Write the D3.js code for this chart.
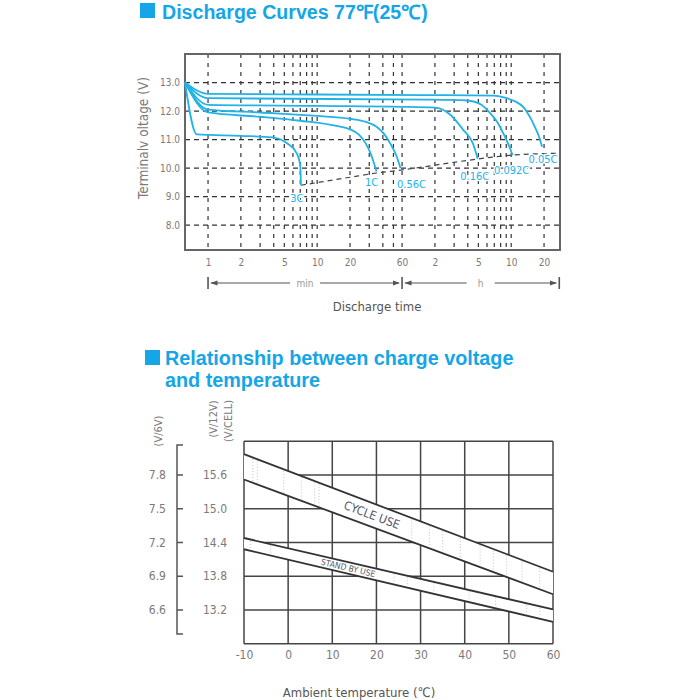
<!DOCTYPE html>
<html><head><meta charset="utf-8">
<script src="https://cdn.jsdelivr.net/npm/d3@7/dist/d3.min.js"></script>
<style>body{margin:0;background:#fff}svg{display:block}</style>
</head><body>
<svg id="c" width="700" height="700"></svg>
<script>
// ---------------- DATA ----------------
const title1 = "Discharge Curves 77\u2109(25\u2103)";
const title2a = "Relationship between charge voltage";
const title2b = "and temperature";

// Discharge curves: [minutes, volts]
const rateLabels = ["3C", "1C", "0.56C", "0.16C", "0.092C", "0.05C"];
const curve3C   = [[0.615,13.0],[0.79,11.18],[2,11.13],[3.9,11.08],[5.3,10.87],[6.5,10.52],[7.0,10.1],[7.1,9.4]];
const curve1C   = [[0.615,13.0],[1,11.95],[3,11.8],[7,11.66],[15,11.48],[20,11.36],[24,11.18],[28,10.85],[31,10.5],[33,10.2],[35,9.88]];
const curve056C = [[0.615,13.0],[1,12.05],[3,11.95],[10,11.83],[20,11.73],[28,11.62],[35,11.45],[41,11.2],[47,10.85],[53,10.45],[58,10.0]];
const curve016C = [[0.615,13.0],[1,12.22],[10,12.18],[60,12.15],[120,12.12],[165,11.88],[217,11.35],[267,10.87],[296,10.33]];
const curve0092C= [[0.615,13.0],[1,12.45],[100,12.4],[237,12.37],[320,12.22],[386,11.92],[450,11.6],[507,11.22],[570,10.8],[618,10.45]];
const curve005C = [[0.615,13.0],[1,12.6],[10,12.58],[100,12.56],[412,12.54],[525,12.47],[650,12.34],[775,12.14],[900,11.76],[992,11.43],[1080,11.1],[1150,10.75]];
const cutoffLine= [[7.1,9.4],[20,9.68],[35,9.83],[58,9.93],[237,10.27],[585,10.45],[1570,10.52]];

const timeDomain = [0.615, 1680];           // minutes
const voltDomain = [7.13, 14];
const voltTicks = [8, 9, 10, 11, 12, 13];
const gridMinutes = [1,2,3,4,5,6,7,8,9,10,20,30,40,50,60,120,180,240,300,360,420,480,540,600,1200];
const timeTicks = [1,2,5,10,20,60,120,300,600,1200];
const timeTickLabels = ["1","2","5","10","20","60","2","5","10","20"];

// Charge voltage vs temperature: [deg C, V/12V]
const tempTicks = [-10,0,10,20,30,40,50,60];
const v12Ticks = [13.2,13.8,14.4,15.0,15.6];
const v6Ticks  = [6.6,6.9,7.2,7.5,7.8];
const v12Domain = [12.6, 16.2];
const v12Grid = [12.6,13.2,13.8,14.4,15.0,15.6,16.2];
const cycleUpper   = [[-10,15.97],[60,13.88]];
const cycleLower   = [[-10,15.52],[60,13.48]];
const standbyUpper = [[-10,14.48],[60,13.21]];
const standbyLower = [[-10,14.28],[60,12.99]];
const cycleHatch   = [-8,-7,-1,3,6,7,28,32,35,39,43.5,46.5,49.5,53,57];
const standbyHatch = [-8.5,-4,24,27,33,41,47,54,57];

// ---------------- STYLE ----------------
const BLUE = "#14a6e6", CURVE = "#21b3e8", GRAY = "#7a7a7a";
const SANS = "'Liberation Sans', Arial, sans-serif";
const NARROW = "'Liberation Sans Narrow', 'DejaVu Sans Condensed', 'Liberation Sans', sans-serif";

const svg = d3.select("#c");

// ---------- Titles ----------
svg.append("rect").attr("x",140).attr("y",3).attr("width",15).attr("height",15).attr("fill",BLUE);
svg.append("text").attr("x",162).attr("y",18.5).attr("font-family",SANS).attr("font-weight","bold")
  .attr("font-size",19.6).attr("fill",BLUE).text(title1);

svg.append("rect").attr("x",145).attr("y",350).attr("width",15).attr("height",15).attr("fill",BLUE);
svg.append("text").attr("x",165).attr("y",365).attr("font-family",SANS).attr("font-weight","bold")
  .attr("font-size",19.8).attr("fill",BLUE).text(title2a);
svg.append("text").attr("x",165).attr("y",387).attr("font-family",SANS).attr("font-weight","bold")
  .attr("font-size",19.8).attr("fill",BLUE).text(title2b);

// ---------- Top chart ----------
const x = d3.scaleLog().domain(timeDomain).range([185, 560]);
const y = d3.scaleLinear().domain(voltDomain).range([250, 54]);
const g1 = svg.append("g");

// grid
g1.selectAll("line.v").data(gridMinutes).join("line").attr("class","v")
  .attr("x1",d=>x(d)).attr("x2",d=>x(d)).attr("y1",y(voltDomain[1])).attr("y2",y(voltDomain[0]))
  .attr("stroke","#333").attr("stroke-width",1.2).attr("stroke-dasharray","4,5");
g1.selectAll("line.h").data(voltTicks).join("line").attr("class","h")
  .attr("x1",x(timeDomain[0])).attr("x2",x(timeDomain[1])).attr("y1",d=>y(d)).attr("y2",d=>y(d))
  .attr("stroke","#333").attr("stroke-width",1.2).attr("stroke-dasharray","5,4");

// frame
g1.append("rect").attr("x",x(timeDomain[0])).attr("y",y(voltDomain[1]))
  .attr("width",x(timeDomain[1])-x(timeDomain[0])).attr("height",y(voltDomain[0])-y(voltDomain[1]))
  .attr("fill","none").attr("stroke","#666").attr("stroke-width",2);

// axes
const ax = g1.append("g").attr("transform",`translate(0,${y(voltDomain[0])})`)
  .call(d3.axisBottom(x).tickValues(timeTicks).tickFormat((d,i)=>timeTickLabels[i]).tickSize(0).tickPadding(9));
ax.select(".domain").remove();
ax.selectAll("text").attr("font-family",NARROW).attr("font-size",10).attr("fill",GRAY);

const ay = g1.append("g").attr("transform",`translate(${x(timeDomain[0])},0)`)
  .call(d3.axisLeft(y).tickValues(voltTicks).tickFormat(d3.format(".1f")).tickSize(0).tickPadding(5));
ay.select(".domain").remove();
ay.selectAll("text").attr("font-family",NARROW).attr("font-size",10).attr("fill",GRAY);

g1.append("text").attr("transform",`translate(148,138) rotate(-90)`)
  .attr("text-anchor","middle").attr("font-family",NARROW).attr("font-size",13.5).attr("fill",GRAY)
  .text("Terminalv oltage (V)");

// cutoff dashed line
const line1 = d3.line().x(d=>x(d[0])).y(d=>y(d[1])).curve(d3.curveMonotoneX);
g1.append("path").attr("d",line1(cutoffLine)).attr("fill","none").attr("stroke","#444")
  .attr("stroke-width",1.2).attr("stroke-dasharray","5,4");

// curves
const curves = [curve3C, curve1C, curve056C, curve016C, curve0092C, curve005C];
const labelOffsets = [[-4,13],[-5,11],[11,16],[-3,17],[-1,15],[1,12]];
g1.selectAll("path.curve").data(curves).join("path").attr("class","curve")
  .attr("d",line1).attr("fill","none").attr("stroke",CURVE).attr("stroke-width",1.8);
g1.selectAll("text.rate").data(curves).join("text").attr("class","rate")
  .attr("x",(d,i)=>x(d[d.length-1][0])+labelOffsets[i][0])
  .attr("y",(d,i)=>y(d[d.length-1][1])+labelOffsets[i][1])
  .attr("dy","0.35em").attr("text-anchor","middle").attr("font-family",NARROW)
  .attr("font-size",11).attr("fill",CURVE)
  .attr("stroke","#fff").attr("stroke-width",2.5).attr("paint-order","stroke")
  .text((d,i)=>rateLabels[i]);

// range indicator (min / h)
const ry = 283, rc = "#555";
const defs = svg.append("defs");
defs.append("marker").attr("id","arr").attr("viewBox","0 0 10 10").attr("refX",9).attr("refY",5)
  .attr("markerWidth",6).attr("markerHeight",6).attr("orient","auto-start-reverse")
  .append("path").attr("d","M0,1.5 L10,5 L0,8.5 Z").attr("fill",rc);
[timeTicks[0], 60, timeDomain[1]*0.985].forEach(t=>{
  g1.append("line").attr("x1",x(t)).attr("x2",x(t)).attr("y1",ry-6).attr("y2",ry+6)
    .attr("stroke",rc).attr("stroke-width",1.6);
});
function rangeArrow(a, b, label){
  const xa = x(a), xb = x(b), xm = (xa+xb)/2, half = label.length>1 ? 15 : 14;
  g1.append("line").attr("x1",xm-half).attr("x2",xa+3).attr("y1",ry).attr("y2",ry)
    .attr("stroke",rc).attr("stroke-width",1.2).attr("marker-end","url(#arr)");
  g1.append("line").attr("x1",xm+half).attr("x2",xb-3).attr("y1",ry).attr("y2",ry)
    .attr("stroke",rc).attr("stroke-width",1.2).attr("marker-end","url(#arr)");
  g1.append("text").attr("x",xm).attr("y",ry).attr("dy","0.35em").attr("text-anchor","middle")
    .attr("font-family",NARROW).attr("font-size",10).attr("fill","#999").text(label);
}
rangeArrow(1, 60, "min");
rangeArrow(60, timeDomain[1]*0.985, "h");
g1.append("text").attr("x",377).attr("y",311).attr("text-anchor","middle").attr("font-family",NARROW)
  .attr("font-size",13).attr("fill","#555").text("Discharge time");

// ---------- Bottom chart ----------
const xT = d3.scaleLinear().domain([tempTicks[0], tempTicks[tempTicks.length-1]]).range([244, 553]);
const yV = d3.scaleLinear().domain(v12Domain).range([643.75, 441.25]);
const g2 = svg.append("g");

g2.selectAll("line.gv").data(tempTicks).join("line").attr("class","gv")
  .attr("x1",d=>xT(d)).attr("x2",d=>xT(d)).attr("y1",yV(v12Domain[1])).attr("y2",yV(v12Domain[0]))
  .attr("stroke","#444").attr("stroke-width",1.5);
g2.selectAll("line.gh").data(v12Grid).join("line").attr("class","gh")
  .attr("x1",xT(-10)).attr("x2",xT(60)).attr("y1",d=>yV(d)).attr("y2",d=>yV(d))
  .attr("stroke","#444").attr("stroke-width",1.5);

// bands
function bandScale(arr){ return d3.scaleLinear().domain(arr.map(d=>d[0])).range(arr.map(d=>d[1])); }
const cu = bandScale(cycleUpper), cl = bandScale(cycleLower), su = bandScale(standbyUpper), sl = bandScale(standbyLower);
function band(upper, lower, hatch, upS, loS){
  g2.append("path").attr("d",d3.area().x(d=>xT(d[0])).y0(d=>yV(d[1])).y1((d,i)=>yV(upper[i][1]))(lower))
    .attr("fill","#fff");
  g2.selectAll(null).data(hatch).join("line")
    .attr("x1",d=>xT(d)).attr("x2",d=>xT(d)).attr("y1",d=>yV(upS(d))+1.5).attr("y2",d=>yV(loS(d))-1.5)
    .attr("stroke","#bbb").attr("stroke-width",0.9).attr("stroke-dasharray","1,2");
  const ln = d3.line().x(d=>xT(d[0])).y(d=>yV(d[1]));
  [upper, lower].forEach(a=>g2.append("path").attr("d",ln(a)).attr("fill","none")
    .attr("stroke","#333").attr("stroke-width",1.8));
}
band(cycleUpper, cycleLower, cycleHatch, cu, cl);
band(standbyUpper, standbyLower, standbyHatch, su, sl);

function bandText(t, upS, loS, label, size){
  const px = xT(t), py = (yV(upS(t))+yV(loS(t)))/2;
  const dx = xT(60)-xT(-10), dy = (yV(upS(60))+yV(loS(60)))/2 - (yV(upS(-10))+yV(loS(-10)))/2;
  const ang = Math.atan2(dy, dx)*180/Math.PI;
  g2.append("text").attr("transform",`translate(${px},${py}) rotate(${ang})`)
    .attr("text-anchor","middle").attr("dy","0.35em").attr("font-family",NARROW)
    .attr("font-size",size).attr("fill","#556").text(label);
}
bandText(19, cu, cl, "CYCLE USE", 12);
bandText(13.6, su, sl, "STAND BY USE", 8.5);

// x axis
const axT = g2.append("g").attr("transform",`translate(0,${yV(v12Domain[0])})`)
  .call(d3.axisBottom(xT).tickValues(tempTicks).tickFormat(d=>String(d)).tickSize(0).tickPadding(7));
axT.select(".domain").remove();
axT.selectAll("text").attr("font-family",NARROW).attr("font-size",12).attr("fill",GRAY);
g2.append("text").attr("x",359).attr("y",697).attr("text-anchor","middle").attr("font-family",NARROW)
  .attr("font-size",13).attr("fill","#555").text("Ambient temperature (\u2103)");

// V/12V labels
g2.selectAll("text.v12").data(v12Ticks).join("text").attr("class","v12")
  .attr("x",215).attr("y",d=>yV(d)).attr("dy","0.35em").attr("text-anchor","middle")
  .attr("font-family",NARROW).attr("font-size",12).attr("fill",GRAY).text(d3.format(".1f"));
// V/6V bracket axis
const bx = 177;
g2.append("path").attr("d",`M${bx+6},445 H${bx} V634 H${bx+6}`).attr("fill","none")
  .attr("stroke","#555").attr("stroke-width",1.5);
g2.selectAll("line.t6").data(v6Ticks).join("line").attr("class","t6")
  .attr("x1",bx).attr("x2",bx+6).attr("y1",d=>yV(d*2)).attr("y2",d=>yV(d*2))
  .attr("stroke","#555").attr("stroke-width",1.5);
g2.selectAll("text.v6").data(v6Ticks).join("text").attr("class","v6")
  .attr("x",166).attr("y",d=>yV(d*2)).attr("dy","0.35em").attr("text-anchor","end")
  .attr("font-family",NARROW).attr("font-size",12).attr("fill",GRAY).text(d3.format(".1f"));

[["(V/6V)",158,431],["(V/12V)",213,419],["(V/CELL)",228,421]].forEach(([t,px,py])=>{
  g2.append("text").attr("transform",`translate(${px},${py}) rotate(-90)`).attr("text-anchor","middle")
    .attr("dy","0.35em").attr("font-family",NARROW).attr("font-size",11).attr("fill",GRAY).text(t);
});
</script>
</body></html>
